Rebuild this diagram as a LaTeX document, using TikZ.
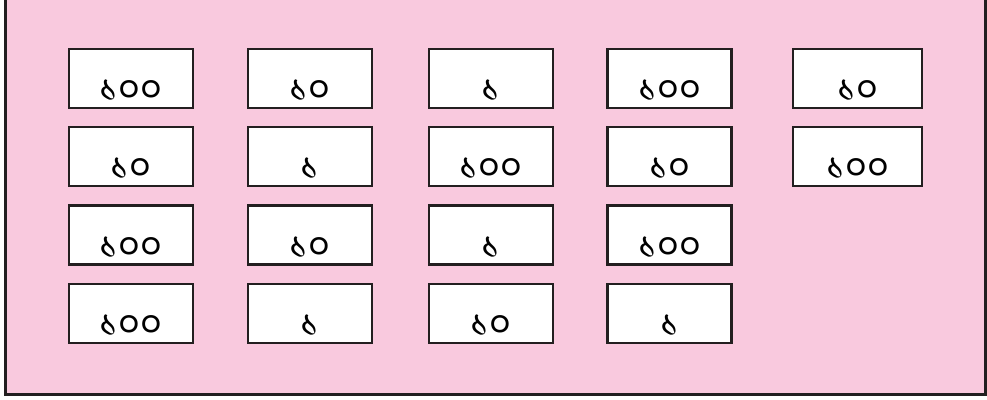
\documentclass[tikz,border=0pt]{standalone}
\usepackage{fontspec}
\newfontfamily\bengalifont[Script=Bengali]{Hind Siliguri}
\definecolor{cardpink}{RGB}{249,201,222}
\definecolor{cardline}{RGB}{35,31,32}
\newcommand{\cardtext}[1]{\smash{\raisebox{-23pt}{\bengalifont #1}}}

\begin{document}
\begin{tikzpicture}[x=1pt, y=-1pt,
    card/.style={draw=cardline, fill=white, line width=2.5pt, minimum width=124pt, minimum height=59pt, inner sep=0pt, font=\fontsize{38}{42}\selectfont},
    wide/.style={card, minimum width=129pt}]
    \useasboundingbox (0,0) rectangle (987,399);

    % Background panel, open at the top
    \fill[cardpink] (5,0) rectangle (985,394);
    \draw[cardline, line width=3pt] (5,0) -- (5,394) -- (985,394) -- (985,0);

    % Row 1
    \node[card] (r1a) at (130.8, 78.5) {\cardtext{১০০}};
    \node[card] (r1b) at (310, 78.5) {\cardtext{১০}};
    \node[card] (r1c) at (490.8, 78.5) {\cardtext{১}};
    \node[card] (r1d) at (669.7, 78.5) {\cardtext{১০০}};
    \node[wide] (r1e) at (857.5, 78.5) {\cardtext{১০}};

    % Row 2
    \node[card] (r2a) at (130.8, 156.5) {\cardtext{১০}};
    \node[card] (r2b) at (310, 156.5) {\cardtext{১}};
    \node[card] (r2c) at (490.8, 156.5) {\cardtext{১০০}};
    \node[card] (r2d) at (669.7, 156.5) {\cardtext{১০}};
    \node[wide] (r2e) at (857.5, 156.5) {\cardtext{১০০}};

    % Row 3
    \node[card] (r3a) at (130.8, 235) {\cardtext{১০০}};
    \node[card] (r3b) at (310, 235) {\cardtext{১০}};
    \node[card] (r3c) at (490.8, 235) {\cardtext{১}};
    \node[card] (r3d) at (669.7, 235) {\cardtext{১০০}};

    % Row 4
    \node[card] (r4a) at (130.8, 313.5) {\cardtext{১০০}};
    \node[card] (r4b) at (310, 313.5) {\cardtext{১}};
    \node[card] (r4c) at (490.8, 313.5) {\cardtext{১০}};
    \node[card] (r4d) at (669.7, 313.5) {\cardtext{১}};
\end{tikzpicture}
\end{document}
